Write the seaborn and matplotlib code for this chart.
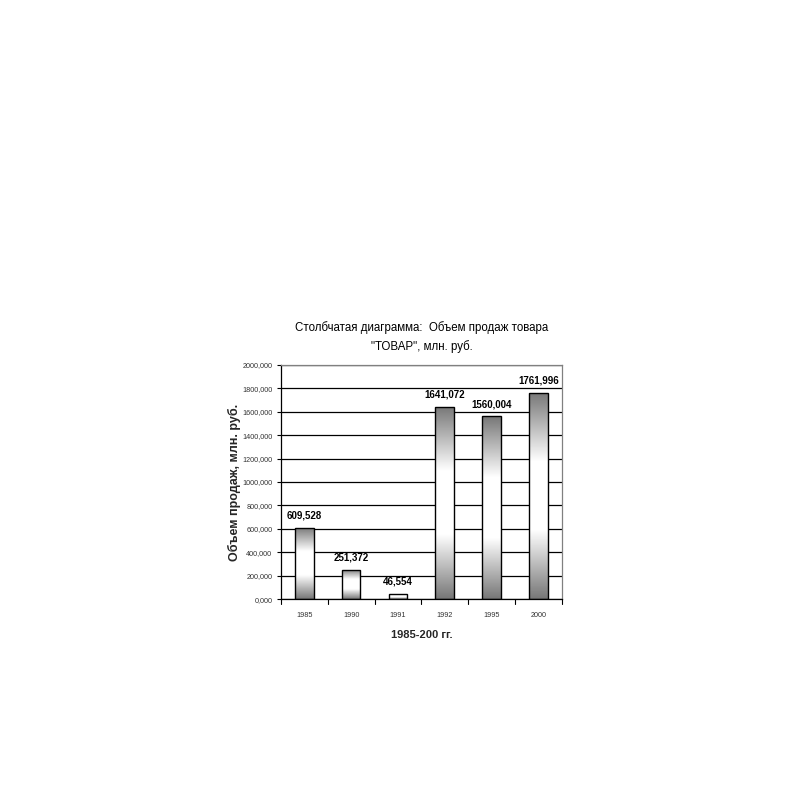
import numpy as np
import pandas as pd
import matplotlib
matplotlib.use("Agg")
import matplotlib.pyplot as plt
import seaborn as sns
from matplotlib.colors import LinearSegmentedColormap

years = ["1985", "1990", "1991", "1992", "1995", "2000"]
sales = [609.528, 251.372, 46.554, 1641.072, 1560.004, 1761.996]
value_labels = ["609,528", "251,372", "46,554", "1641,072", "1560,004", "1761,996"]
yticks = [0, 200, 400, 600, 800, 1000, 1200, 1400, 1600, 1800, 2000]
ytick_labels = [f"{v},000" for v in yticks]

title = 'Столбчатая диаграмма:  Объем продаж товара\n"ТОВАР", млн. руб.'
ylabel = "Объем продаж, млн. руб."
xlabel = "1985-200 гг."

sns.set_style("white")
plt.rcParams["font.family"] = ["Liberation Sans", "DejaVu Sans"]
plt.rcParams["text.color"] = "black"

df = pd.DataFrame({"year": years, "sales": sales})

fig = plt.figure(figsize=(8, 8), dpi=100)
ax = fig.add_axes([0.351, 0.251, 0.3515, 0.293])

sns.barplot(data=df, x="year", y="sales", ax=ax, width=0.4,
            facecolor="none", edgecolor="black", linewidth=1.0, zorder=3)

cmap = LinearSegmentedColormap.from_list("g", ["#777777", "#ffffff", "#ffffff", "#777777"])
grad = np.linspace(0, 1, 256).reshape(-1, 1)
for p in ax.patches:
    x0 = p.get_x()
    w = p.get_width()
    h = p.get_height()
    im = ax.imshow(grad, cmap=cmap, aspect="auto", extent=[x0, x0 + w, 0, h],
                   origin="lower", zorder=2, interpolation="bilinear")
    im.set_clip_path(p)

for p, lab in zip(ax.patches, value_labels):
    ax.text(p.get_x() + p.get_width() / 2, p.get_height() + 60, lab,
            ha="center", va="bottom", fontsize=7, fontweight="bold")

ax.set_xlim(-0.5, len(years) - 0.5)
ax.set_ylim(0, 2000)
ax.set_yticks(yticks)
ax.set_yticklabels(ytick_labels, fontsize=5.2, color="#333333")
ax.set_xticks(range(len(years)))
ax.set_xticklabels(years, fontsize=5.2, color="#333333")
ax.yaxis.grid(True, color="black", linewidth=0.9)
ax.set_axisbelow(True)

ax.tick_params(axis="x", length=0, pad=9)
ax.tick_params(axis="y", left=True, length=3, width=0.8, direction="out", pad=3, color="black")
for b in np.arange(-0.5, len(years), 1.0):
    ax.plot([b, b], [0, -40], color="black", lw=0.8, clip_on=False, zorder=4)

for s in ["left", "bottom"]:
    ax.spines[s].set_color("black")
    ax.spines[s].set_linewidth(0.9)
for s in ["top", "right"]:
    ax.spines[s].set_color("#808080")
    ax.spines[s].set_linewidth(0.9)

ax.set_xlabel(xlabel, fontsize=8, fontweight="bold", labelpad=8)
ax.set_ylabel(ylabel, fontsize=9, fontweight="bold", labelpad=1)
ax.set_title(title, fontsize=8.3, linespacing=1.6, pad=11)

fig.savefig("out.png", dpi=100, facecolor="white")
